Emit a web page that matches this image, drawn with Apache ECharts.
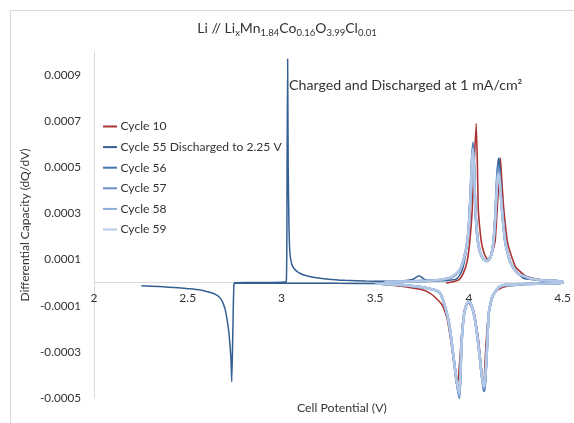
<!DOCTYPE html>
<html>
<head>
<meta charset="utf-8">
<script src="https://cdn.jsdelivr.net/npm/echarts@6/dist/echarts.min.js"></script>
<style>
html,body{margin:0;padding:0;background:#fff;}
#chart{width:574px;height:423px;}
</style>
</head>
<body>
<div id="chart"></div>
<script>
// ---- data ----
const seriesNames = ['Cycle 10', 'Cycle 55 Discharged to 2.25 V', 'Cycle 56', 'Cycle 57', 'Cycle 58', 'Cycle 59'];
const xTicks = [2, 2.5, 3, 3.5, 4, 4.5];
const yTickLabels = ['-0.0005', '-0.0003', '-0.0001', '0.0001', '0.0003', '0.0005', '0.0007', '0.0009'];

// Cycle 10 (charge then discharge)
const c10V = [3.88, 3.92, 3.948, 3.97, 3.99, 4.005, 4.018, 4.03, 4.039, 4.045, 4.05, 4.06, 4.07, 4.085, 4.1, 4.12, 4.14, 4.156, 4.168, 4.175, 4.186, 4.207, 4.248, 4.3, 4.38, 4.45, 4.5,
  4.5, 4.35, 4.25, 4.18, 4.14, 4.12, 4.105, 4.095, 4.087, 4.079, 4.072, 4.063, 4.05, 4.025, 3.995, 3.975, 3.962, 3.952, 3.943, 3.934, 3.925, 3.905, 3.885, 3.86, 3.815, 3.78, 3.745, 3.65, 3.55, 3.5];
const c10Q = [-0.000002, 0.000005, 0.000013, 0.00004, 0.00009, 0.00018, 0.00032, 0.00055, 0.00069, 0.00052, 0.00032, 0.00022, 0.00016, 0.00012, 0.0001, 0.00012, 0.00018, 0.00039, 0.00054, 0.00045, 0.00032, 0.00017, 0.00007, 0.00003, 0.000012, 0.000006, 0.000004,
  -0.000002, -0.000005, -0.00001, -0.00002, -0.00004, -0.00008, -0.00014, -0.00022, -0.00033, -0.00046, -0.00042, -0.00034, -0.00024, -0.00012, -0.000085, -0.00013, -0.00022, -0.00033, -0.00042, -0.00044, -0.00038, -0.00026, -0.00016, -0.0001, -0.00006, -0.00004, -0.00003, -0.000016, -0.000008, -0.000004];

// Cycle 55 (charge from 2.75 V, then discharge down to 2.25 V)
const c55V = [2.747, 2.9, 3.0, 3.026, 3.03, 3.033, 3.036, 3.04, 3.045, 3.055, 3.07, 3.09, 3.12, 3.16, 3.25, 3.34, 3.45, 3.55, 3.65, 3.7, 3.72, 3.735, 3.75, 3.77, 3.82, 3.87, 3.9, 3.93, 3.95, 3.97, 3.99, 4.005, 4.015, 4.022, 4.028, 4.034, 4.045, 4.06, 4.08, 4.097, 4.115, 4.13, 4.14, 4.148, 4.155, 4.16, 4.166, 4.177, 4.195, 4.23, 4.29, 4.35, 4.42, 4.5,
  4.5, 4.4, 4.3, 4.24, 4.19, 4.16, 4.14, 4.125, 4.113, 4.105, 4.098, 4.092, 4.087, 4.083, 4.077, 4.068, 4.055, 4.04, 4.025, 4.01, 4.0, 3.99, 3.978, 3.968, 3.96, 3.955, 3.949, 3.943, 3.935, 3.922, 3.91, 3.895, 3.875, 3.85, 3.83, 3.8, 3.75, 3.65, 3.5, 3.3, 3.0, 2.8, 2.76, 2.747, 2.741, 2.735, 2.73, 2.72, 2.71, 2.7, 2.69, 2.68, 2.665, 2.65, 2.63, 2.6, 2.56, 2.5, 2.45, 2.35, 2.253];
const c55Q = [0.0, 0.000001, 0.000002, 0.000005, 0.0005, 0.00097, 0.0005, 0.00025, 0.00013, 0.00008, 0.000058, 0.000045, 0.000033, 0.000025, 0.000015, 0.00001, 0.000007, 0.000006, 0.000008, 0.000014, 0.000024, 0.00003, 0.000022, 0.000012, 0.000008, 0.000008, 0.000011, 0.000014, 0.00003, 0.00007, 0.00016, 0.00032, 0.0005, 0.00061, 0.0005, 0.00033, 0.0002, 0.00013, 0.0001, 0.000093, 0.00011, 0.00017, 0.00028, 0.00042, 0.00052, 0.00054, 0.00049, 0.00032, 0.00017, 0.00007, 0.00002, 0.000012, 0.000008, 0.000005,
  -0.000002, -0.000004, -0.000006, -0.00001, -0.00001, -0.00002, -0.00004, -0.00006, -0.0001, -0.00014, -0.00026, -0.00036, -0.00044, -0.00047, -0.00045, -0.0004, -0.0003, -0.0002, -0.00013, -0.00009, -0.00008, -0.00009, -0.00012, -0.00018, -0.00028, -0.0004, -0.00049, -0.00046, -0.00042, -0.00034, -0.00027, -0.00018, -0.00011, -0.00005, -0.000035, -0.000028, -0.00002, -0.00001, -0.000004, -0.000003, -0.000002, -0.000002, -0.000003, -0.000004, -0.0002, -0.00043, -0.00032, -0.00022, -0.00016, -0.000117, -0.000092, -0.000075, -0.00006, -0.000052, -0.000045, -0.000038, -0.000031, -0.000026, -0.000022, -0.000017, -0.000013];

// Cycles 56-59 share one voltage grid (charge then discharge)
const lateV = [3.55, 3.7, 3.8, 3.85, 3.88, 3.9, 3.93, 3.955, 3.975, 3.99, 4.0, 4.009, 4.016, 4.022, 4.028, 4.034, 4.045, 4.06, 4.08, 4.097, 4.115, 4.13, 4.14, 4.148, 4.155, 4.162, 4.17, 4.18, 4.195, 4.22, 4.26, 4.32, 4.4, 4.5,
  4.5, 4.4, 4.3, 4.24, 4.19, 4.16, 4.14, 4.125, 4.113, 4.105, 4.098, 4.092, 4.086, 4.081, 4.076, 4.068, 4.055, 4.04, 4.025, 4.01, 4.0, 3.99, 3.978, 3.968, 3.96, 3.955, 3.949, 3.943, 3.935, 3.922, 3.91, 3.895, 3.875, 3.85, 3.83, 3.8, 3.75, 3.65, 3.55, 3.5];
const c56Q = [0.000004, 0.000006, 0.000008, 0.000012, 0.000016, 0.00002, 0.000035, 0.00006, 0.00011, 0.00017, 0.00025, 0.00039, 0.00053, 0.0006, 0.0005, 0.00033, 0.0002, 0.00013, 0.0001, 0.000093, 0.00011, 0.00017, 0.00028, 0.00042, 0.00052, 0.00049, 0.00039, 0.00028, 0.00017, 0.00009, 0.00004, 0.00002, 0.00001, 0.000006,
  -0.000003, -0.000004, -0.000006, -0.00001, -0.00001, -0.00002, -0.00004, -0.00006, -0.0001, -0.00014, -0.00026, -0.00036, -0.00044, -0.00047, -0.00045, -0.0004, -0.0003, -0.0002, -0.00013, -0.00009, -0.00008, -0.00009, -0.00012, -0.00018, -0.00028, -0.0004, -0.0005, -0.00047, -0.00043, -0.00035, -0.00027, -0.00018, -0.00011, -0.00005, -0.000035, -0.000028, -0.00002, -0.00001, -0.000006, -0.000004];
const c57Q = [0.000004, 0.000006, 0.000008, 0.000012, 0.000017, 0.000021, 0.000036, 0.00006, 0.00011, 0.00017, 0.00025, 0.00039, 0.00052, 0.00059, 0.00049, 0.00033, 0.0002, 0.00013, 0.0001, 0.000094, 0.00011, 0.00017, 0.00028, 0.00041, 0.0005, 0.00048, 0.00038, 0.00028, 0.00017, 0.00009, 0.00004, 0.00002, 0.00001, 0.000006,
  -0.000003, -0.000004, -0.000006, -0.00001, -0.00001, -0.00002, -0.00004, -0.00006, -0.0001, -0.00014, -0.00026, -0.00036, -0.00043, -0.00046, -0.00044, -0.0004, -0.0003, -0.0002, -0.00013, -0.00009, -0.00008, -0.00009, -0.00012, -0.00018, -0.00028, -0.0004, -0.00049, -0.00047, -0.00043, -0.00035, -0.00027, -0.00018, -0.00011, -0.00005, -0.000035, -0.000028, -0.00002, -0.00001, -0.000006, -0.000004];
const c58Q = [0.000004, 0.000006, 0.000009, 0.000013, 0.000017, 0.000022, 0.000037, 0.00006, 0.00011, 0.00017, 0.00025, 0.00038, 0.00051, 0.00058, 0.00049, 0.00033, 0.0002, 0.00013, 0.0001, 0.000095, 0.00011, 0.00017, 0.00027, 0.0004, 0.00048, 0.00047, 0.00038, 0.00028, 0.00017, 0.00009, 0.00004, 0.00002, 0.00001, 0.000006,
  -0.000003, -0.000004, -0.000006, -0.00001, -0.00001, -0.00002, -0.00004, -0.00006, -0.0001, -0.00014, -0.00026, -0.00036, -0.00043, -0.00046, -0.00044, -0.0004, -0.0003, -0.0002, -0.00013, -0.00009, -0.00008, -0.00009, -0.00012, -0.00018, -0.00028, -0.0004, -0.00049, -0.00047, -0.00043, -0.00035, -0.00027, -0.00018, -0.00011, -0.00005, -0.000035, -0.000028, -0.00002, -0.00001, -0.000006, -0.000004];
const c59Q = [0.000004, 0.000006, 0.000009, 0.000013, 0.000018, 0.000023, 0.000038, 0.00006, 0.00011, 0.00017, 0.00025, 0.00038, 0.00051, 0.00058, 0.00048, 0.00033, 0.0002, 0.00013, 0.0001, 0.000095, 0.00011, 0.00017, 0.00027, 0.00039, 0.00047, 0.00046, 0.00038, 0.00028, 0.00017, 0.00009, 0.00004, 0.00002, 0.00001, 0.000006,
  -0.000003, -0.000004, -0.000006, -0.00001, -0.00001, -0.00002, -0.00004, -0.00006, -0.0001, -0.00014, -0.00026, -0.00035, -0.00042, -0.00045, -0.00044, -0.0004, -0.0003, -0.0002, -0.00013, -0.00009, -0.00008, -0.00009, -0.00012, -0.00018, -0.00028, -0.00039, -0.00048, -0.00046, -0.00043, -0.00035, -0.00027, -0.00018, -0.00011, -0.00005, -0.000035, -0.000028, -0.00002, -0.00001, -0.000006, -0.000004];

const seriesV = [c10V, c55V, lateV, lateV, lateV, lateV];
const seriesQ = [c10Q, c55Q, c56Q, c57Q, c58Q, c59Q];
const colors = ['#ab3535', '#345f93', '#4674b0', '#6990c8', '#8caedb', '#b8cbe8'];
const widths = [1.6, 1.5, 2.4, 2.4, 2.4, 2.4];

function zip(a, b) { return a.map((v, i) => [v, b[i]]); }

const FONT = 'Lato';
const GRID_TOP = 52, GRID_BOTTOM = 25, PLOT_H = 423 - GRID_TOP - GRID_BOTTOM;
const Y_MIN = -0.0005, Y_MAX = 0.001;
// distance from the bottom of the plot to the zero line (used to lift the x axis onto y = 0)
const zeroOffset = PLOT_H * (0 - Y_MIN) / (Y_MAX - Y_MIN);

const chart = echarts.init(document.getElementById('chart'), null, { renderer: 'canvas' });

const option = {
  backgroundColor: '#ffffff',
  animation: false,
  textStyle: { fontFamily: FONT },
  title: {
    text: '{n|Li // Li}{s|x}{n|Mn}{s|1.84}{n|Co}{s|0.16}{n|O}{s|3.99}{n|Cl}{s|0.01}',
    left: 'center',
    top: 14,
    textStyle: {
      fontWeight: 'normal',
      rich: {
        n: { fontFamily: FONT, fontSize: 14, fontWeight: 'normal', color: '#333', lineHeight: 19, verticalAlign: 'middle' },
        s: { fontFamily: FONT, fontSize: 9.5, fontWeight: 'normal', color: '#333', lineHeight: 8, verticalAlign: 'bottom' }
      }
    }
  },
  legend: {
    orient: 'vertical',
    left: 98,
    top: 114,
    icon: 'path://M0,0L14,0L14,2L0,2Z',
    itemWidth: 15,
    itemHeight: 2,
    itemGap: 5.6,
    data: seriesNames,
    textStyle: { fontFamily: FONT, fontSize: 12.1, color: '#333', lineHeight: 15, padding: [0, 0, 0, -2] }
  },
  grid: { left: 94, right: 8, top: GRID_TOP, bottom: GRID_BOTTOM, containLabel: false },
  xAxis: {
    type: 'value',
    min: xTicks[0],
    max: xTicks[xTicks.length - 1],
    interval: 0.5,
    offset: -zeroOffset,
    axisLine: { onZero: false, lineStyle: { color: '#d9d9d9', width: 1 } },
    axisTick: { show: false },
    splitLine: { show: false },
    axisLabel: {
      margin: 9,
      fontFamily: FONT, fontSize: 12, color: '#333',
      formatter: v => String(parseFloat(v.toFixed(2)))
    }
  },
  yAxis: {
    type: 'value',
    min: Y_MIN,
    max: Y_MAX,
    interval: 0.0001,
    axisLine: { show: true, onZero: false, lineStyle: { color: '#d9d9d9', width: 1 } },
    axisTick: { show: false },
    splitLine: { show: false },
    axisLabel: {
      margin: 13,
      fontFamily: FONT, fontSize: 11.7, color: '#333',
      showMaxLabel: false,
      formatter: function (v) {
        const k = Math.round(v * 10000);
        if (Math.abs(k % 2) !== 1) return '';
        const s = (k / 10000).toFixed(4);
        return yTickLabels.indexOf(s) >= 0 ? s : '';
      }
    }
  },
  graphic: [
    { type: 'rect', silent: true, shape: { x: 10.5, y: 10.5, width: 620, height: 480 }, style: { fill: 'none', stroke: '#d9d9d9', lineWidth: 1 }, z: -10 },
    { type: 'text', left: 289, top: 78, style: { text: 'Charged and Discharged at 1 mA/cm²', fontFamily: FONT, fontSize: 14.2, fill: '#333' } },
    { type: 'text', left: 297, top: 402, style: { text: 'Cell Potential (V)', fontFamily: FONT, fontSize: 12.3, fill: '#333' } },
    { type: 'text', x: 25, y: 225, rotation: Math.PI / 2, style: { text: 'Differential Capacity (dQ/dV)', fontFamily: FONT, fontSize: 12, fill: '#333', align: 'center', verticalAlign: 'middle' } }
  ],
  series: seriesNames.map((name, i) => ({
    name: name,
    type: 'line',
    data: zip(seriesV[i], seriesQ[i]),
    symbol: 'none',
    showSymbol: false,
    smooth: 0.15,
    clip: true,
    color: colors[i],
    lineStyle: { color: colors[i], width: widths[i], opacity: i >= 2 ? 0.9 : 1 }
  }))
};
chart.setOption(option);
</script>
</body>
</html>
